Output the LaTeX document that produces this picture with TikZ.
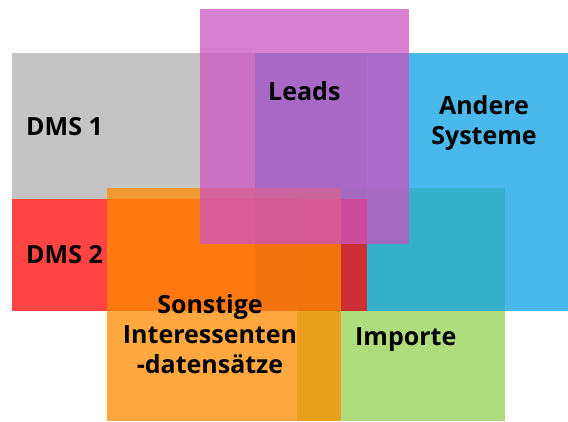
\documentclass[tikz,border=0pt]{standalone}
\usepackage{fontspec}
\setmainfont{Open Sans}
\definecolor{cgray}{RGB}{176,176,176}
\definecolor{cgreen}{RGB}{147,210,83}
\definecolor{cblue}{RGB}{14,160,227}
\definecolor{cred}{RGB}{255,6,6}
\definecolor{corange}{RGB}{255,139,0}
\definecolor{cpink}{RGB}{204,84,192}
\tikzset{
  area/.style={fill opacity=0.75, draw=none},
  lbl/.style={font=\fontsize{25}{30}\selectfont\bfseries, text=black, inner sep=0pt, align=center},
}
\begin{document}
\begin{tikzpicture}[x=1pt,y=-1pt]
\useasboundingbox (0,0) rectangle (568,421);
\fill[area,cgray]   (12,53)  rectangle (367,199);
\fill[area,cgreen]  (297,188) rectangle (505,421);
\fill[area,cblue]   (255,53) rectangle (567.5,311);
\fill[area,cred]    (12,199) rectangle (367,311);
\fill[area,corange] (107,188) rectangle (341,421);
\fill[area,cpink]   (200,9)  rectangle (409,244);
\node[lbl,anchor=base west] (dms1) at (26,135) {DMS 1};
\node[lbl,anchor=base west] (dms2) at (26,263) {DMS 2};
\node[lbl,anchor=base west] (leads) at (268,100) {Leads};
\node[lbl] (andere) at (484,123) {Andere\\Systeme};
\node[lbl] (sonst) at (210,334) {Sonstige\\Interessenten\\-datensätze};
\node[lbl,anchor=base west] (imp) at (355,345) {Importe};
\end{tikzpicture}
\end{document}
